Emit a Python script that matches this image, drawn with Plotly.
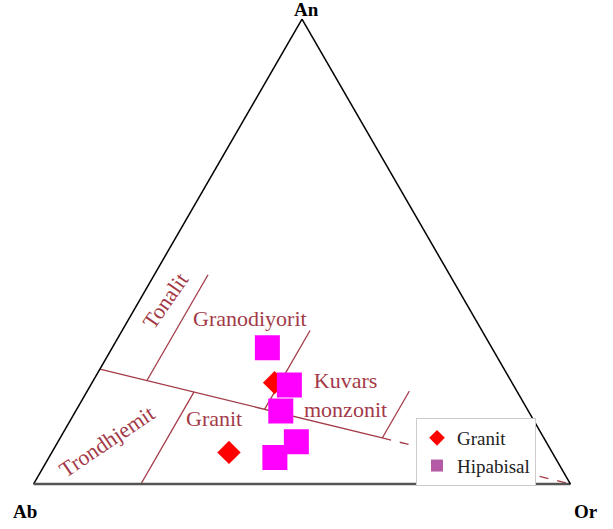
import math
import plotly.graph_objects as go

# ---------------- data (fractions An, Ab, Or) ----------------
granit_an = [0.218, 0.068]
granit_ab = [0.442, 0.602]
granit_or = [0.340, 0.330]

hip_an = [0.293, 0.213, 0.157, 0.091, 0.057]
hip_ab = [0.418, 0.417, 0.461, 0.465, 0.522]
hip_or = [0.289, 0.370, 0.382, 0.444, 0.421]

# field boundaries (Barker 1979 An-Ab-Or)
main_an = [0.247, 0.099]
main_ab = [0.753, 0.301]
main_or = [0.000, 0.600]

dash_an = [0.099, 0.000]
dash_ab = [0.301, 0.000]
dash_or = [0.600, 1.000]

ton_an = [0.222, 0.450]
ton_ab = [0.678, 0.450]
ton_or = [0.100, 0.100]

trd_an = [0.000, 0.198]
trd_ab = [0.800, 0.602]
trd_or = [0.200, 0.200]

qm_an = [0.161, 0.330]
qm_ab = [0.489, 0.320]
qm_or = [0.350, 0.350]

qm2_an = [0.099, 0.200]
qm2_ab = [0.301, 0.200]
qm2_or = [0.600, 0.600]

# field labels: text, An, Or, angle
field_labels = ["Granodiyorit", "Granit", "Kuvars<br>monzonit", "Tonalit", "Trondhjemit"]
field_an = [0.356, 0.140, 0.191, 0.395, 0.092]
field_or = [0.225, 0.267, 0.485, 0.048, 0.090]
field_angle = [0, 0, 0, -55, -34]

vertex_labels = ["An", "Ab", "Or"]

# ---------------- figure ----------------
W, H = 613, 529
ML, MR, MT, MB = 0, 9, 19, 45
PW, PH = W - ML - MR, H - MT - MB
TW = PH * 2 / math.sqrt(3)

LINE_COL = "#a33a48"
SERIF = "Liberation Serif"


def to_paper(a, c):
    return 0.5 + (c + a / 2 - 0.5) * TW / PW, a


fig = go.Figure()

line_sets = [
    (main_an, main_ab, main_or, "solid"),
    (dash_an, dash_ab, dash_or, "dash"),
    (ton_an, ton_ab, ton_or, "solid"),
    (trd_an, trd_ab, trd_or, "solid"),
    (qm_an, qm_ab, qm_or, "solid"),
    (qm2_an, qm2_ab, qm2_or, "solid"),
]
for a, b, c, dash in line_sets:
    fig.add_trace(go.Scatterternary(
        a=a, b=b, c=c, mode="lines",
        line=dict(color=LINE_COL, width=1.3, dash=dash),
        showlegend=False, hoverinfo="skip"))

fig.add_trace(go.Scatterternary(
    a=granit_an, b=granit_ab, c=granit_or, mode="markers", name="Granit",
    marker=dict(symbol="diamond", size=18, color="#ff0000",
                line=dict(width=0))))

fig.add_trace(go.Scatterternary(
    a=hip_an, b=hip_ab, c=hip_or, mode="markers", name="Hipabisal",
    marker=dict(symbol="square", size=25, color="#ff00ff", line=dict(width=0)),
    showlegend=False))

# legend entry for Hipabisal (muted swatch as in the original)
fig.add_trace(go.Scatterternary(
    a=[None], b=[None], c=[None], mode="markers", name="Hipabisal",
    marker=dict(symbol="square", size=12, color="#b55aa6")))

annotations = []
for txt, a, c, ang in zip(field_labels, field_an, field_or, field_angle):
    x, y = to_paper(a, c)
    annotations.append(dict(
        x=x, y=y, xref="paper", yref="paper", text=txt, showarrow=False,
        textangle=ang, xanchor="center", yanchor="middle",
        font=dict(family=SERIF, size=22, color=LINE_COL)))

vx = [0.5 + 4 / PW, 25 / PW, 586 / PW]
vy = [1 + 10 / PH, -27.7 / PH, -27.7 / PH]
for txt, x, y in zip(vertex_labels, vx, vy):
    annotations.append(dict(
        x=x, y=y, xref="paper", yref="paper", text="<b>%s</b>" % txt,
        showarrow=False, xanchor="center", yanchor="middle",
        font=dict(family=SERIF, size=19, color="black")))

axis_common = dict(showticklabels=False, ticks="", showgrid=False,
                   showline=True, title=dict(text=""))

fig.update_layout(
    width=W, height=H,
    margin=dict(l=ML, r=MR, t=MT, b=MB),
    paper_bgcolor="white", plot_bgcolor="white",
    ternary=dict(
        sum=1, bgcolor="white",
        domain=dict(x=[0, 1], y=[0, 1]),
        aaxis=dict(**axis_common, linecolor="black", linewidth=1.5),
        baxis=dict(**axis_common, linecolor="#555555", linewidth=2.5),
        caxis=dict(**axis_common, linecolor="black", linewidth=1.5),
    ),
    legend=dict(
        x=416 / PW, y=(H - MB - 418) / PH, xanchor="left", yanchor="top",
        bgcolor="white", bordercolor="#cccccc", borderwidth=1,
        itemsizing="constant",
        font=dict(family=SERIF, size=19, color="#222222")),
    annotations=annotations,
    showlegend=True,
)

fig.write_html("out.html", config={"displayModeBar": False},
               post_script="document.body.style.margin='0px';")
